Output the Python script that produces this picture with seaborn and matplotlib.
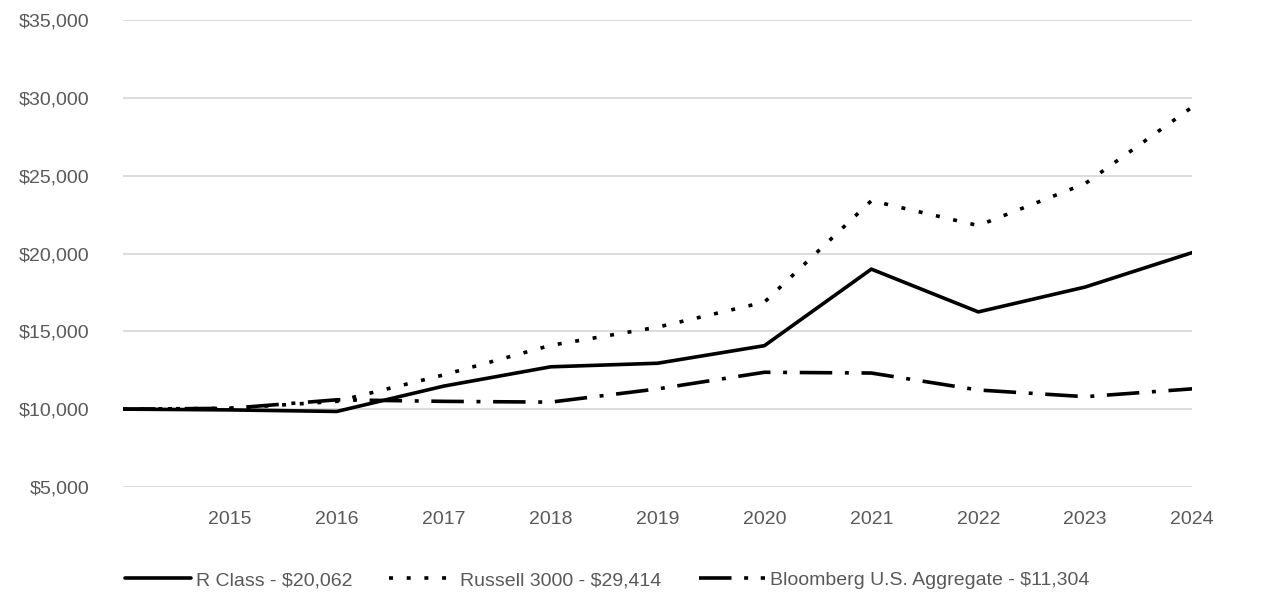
import pandas as pd
import matplotlib
matplotlib.use("Agg")
import matplotlib.pyplot as plt
import seaborn as sns

# =============================================================================
# DATA - growth of $10,000
# =============================================================================
years = [2014, 2015, 2016, 2017, 2018, 2019, 2020, 2021, 2022, 2023, 2024]
r_class = [10000, 9950, 9850, 11480, 12720, 12950, 14080, 19000, 16250, 17850, 20062]
russell = [10000, 10050, 10500, 12200, 14100, 15270, 16880, 23400, 21800, 24500, 29414]
bloomberg = [10000, 10050, 10600, 10500, 10450, 11300, 12370, 12320, 11230, 10800, 11304]

series_names = ["R Class - $20,062", "Russell 3000 - $29,414",
                "Bloomberg U.S. Aggregate - $11,304"]
y_ticks = [5000, 10000, 15000, 20000, 25000, 30000, 35000]
x_ticks = [2015, 2016, 2017, 2018, 2019, 2020, 2021, 2022, 2023, 2024]

df = pd.DataFrame({
    "Year": years * 3,
    "Value": r_class + russell + bloomberg,
    "Series": [series_names[0]] * len(years)
              + [series_names[1]] * len(years)
              + [series_names[2]] * len(years),
})

# =============================================================================
# PLOT
# =============================================================================
sns.set_style("white")
plt.rcParams["font.family"] = ["Liberation Sans Narrow", "Liberation Sans", "DejaVu Sans"]
text_grey = "#595959"

fig = plt.figure(figsize=(12.86, 6.14), dpi=100)
ax = fig.add_axes([0.0956, 0.207, 0.927 - 0.0956, 0.967 - 0.207])

sns.lineplot(
    data=df, x="Year", y="Value", style="Series", ax=ax,
    color="black", linewidth=2.6,
    dashes={series_names[0]: "",
            series_names[1]: (1.1, 3.8),
            series_names[2]: (9, 3.5, 1.1, 3.5)},
)

ax.set_xlim(2014, 2024)
ax.set_ylim(5000, 35000)
ax.set_yticks(y_ticks)
ax.set_yticklabels([f"${v:,.0f}" for v in y_ticks])
ax.set_xticks(x_ticks)
ax.set_xticklabels([str(y) for y in x_ticks])
ax.yaxis.grid(True, color="#d9d9d9", linewidth=1.3)
ax.set_axisbelow(True)
for s in ax.spines.values():
    s.set_visible(False)
ax.tick_params(axis="both", length=0, labelsize=14, colors=text_grey)
ax.tick_params(axis="x", pad=17)
ax.tick_params(axis="y", pad=24)
ax.set_xlabel("")
ax.set_ylabel("")

handles, labels = ax.get_legend_handles_labels()
ax.legend_.remove()
leg = fig.legend(handles, labels, loc="center", bbox_to_anchor=(0.472, 0.055),
                 ncol=3, frameon=False, fontsize=14, handlelength=3.4,
                 handletextpad=0.25, columnspacing=1.9)
for t in leg.get_texts():
    t.set_color(text_grey)

fig.savefig("out.png", dpi=100)
